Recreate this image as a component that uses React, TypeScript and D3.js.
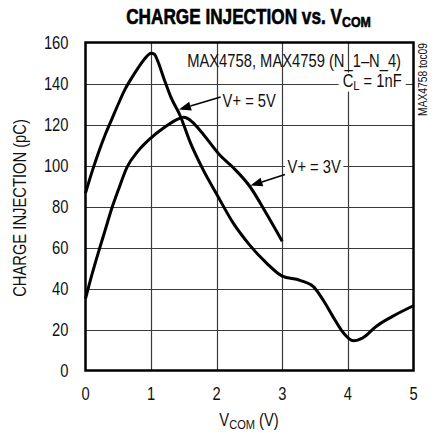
import React, { useEffect, useRef } from "react";
import * as d3 from "d3";

// axis ticks
const xTicks = [0, 1, 2, 3, 4, 5];
const yTicks = [0, 20, 40, 60, 80, 100, 120, 140, 160];

// V+ = 5V curve
const vcom5V = [0, 0.1, 0.2, 0.3, 0.4, 0.5, 0.6, 0.7, 0.8, 0.9, 1.0, 1.05, 1.1, 1.2, 1.3, 1.44, 1.6, 1.8, 2.0, 2.25, 2.5, 2.76, 3.0, 3.27, 3.47, 3.62, 3.77, 3.93, 4.08, 4.23, 4.43, 4.68, 5.0];
const charge5V = [86.5, 97, 106.5, 115, 122.5, 130, 137, 142.5, 147.5, 152, 154.8, 154.3, 151, 142, 133.5, 124.5, 111, 97.5, 86, 72, 61.3, 52.4, 46, 44, 41, 34.5, 26.4, 18.4, 14.5, 16, 21.5, 26.4, 31.6];

// V+ = 3V curve
const vcom3V = [0, 0.1, 0.2, 0.3, 0.4, 0.5, 0.63, 0.8, 1.0, 1.2, 1.4, 1.5, 1.6, 1.75, 2.05, 2.25, 2.5, 2.75, 3.0];
const charge3V = [35, 47, 58, 68.5, 79, 88, 99, 107, 113.5, 118.5, 122.5, 123.5, 122, 117, 105, 99, 90, 77, 63];

// Arial-metric font squeezed horizontally to look like Helvetica Condensed
const FONT = "'Liberation Sans', Arial, sans-serif";
const SQUEEZE = 0.82;

const App = () => {
  const ref = useRef<SVGSVGElement>(null);

  useEffect(() => {
    const width = 435;
    const height = 434;
    const margin = { top: 42.5, right: 21.5, bottom: 63.5, left: 85.5 };

    const svg = d3.select(ref.current);
    svg.selectAll("*").remove();
    svg.style("font-family", FONT);

    const x = d3.scaleLinear().domain([0, 5]).range([margin.left, width - margin.right]);
    const y = d3.scaleLinear().domain([0, 160]).range([height - margin.bottom, margin.top]);
    const plotW = width - margin.left - margin.right;
    const plotH = height - margin.top - margin.bottom;

    const label = (px: number, py: number, size: number, anchor = "start", rotate = 0, squeeze = SQUEEZE) =>
      svg
        .append("text")
        .attr("transform", `translate(${px},${py})${rotate ? ` rotate(${rotate})` : ""} scale(${squeeze},1)`)
        .attr("text-anchor", anchor)
        .attr("font-size", size)
        .attr("fill", "#111");

    // grid, as one path
    const gridPath = d3.path();
    xTicks.slice(1, -1).forEach((t) => {
      gridPath.moveTo(Math.round(x(t)) + 0.5, y(0));
      gridPath.lineTo(Math.round(x(t)) + 0.5, y(160));
    });
    yTicks.slice(1, -1).forEach((t) => {
      gridPath.moveTo(x(0), Math.round(y(t)) + 0.5);
      gridPath.lineTo(x(5), Math.round(y(t)) + 0.5);
    });
    svg
      .append("path")
      .attr("d", gridPath.toString())
      .attr("fill", "none")
      .attr("stroke", "#3a3a3a")
      .attr("stroke-width", 1.2);

    // tick labels
    xTicks.forEach((t) => label(x(t), y(0) + 29, 18, "middle").text(String(t)));
    yTicks.forEach((t) => label(x(0) - 17, y(t) + 6.3, 18, "end").text(String(t)));

    // curves
    const line = d3
      .line<[number, number]>()
      .x((d) => x(d[0]))
      .y((d) => y(d[1]))
      .curve(d3.curveMonotoneX);

    const series = [
      vcom5V.map((v, i) => [v, charge5V[i]] as [number, number]),
      vcom3V.map((v, i) => [v, charge3V[i]] as [number, number]),
    ];
    svg
      .append("g")
      .selectAll("path")
      .data(series)
      .join("path")
      .attr("fill", "none")
      .attr("stroke", "#000")
      .attr("stroke-width", 3)
      .attr("stroke-linejoin", "round")
      .attr("d", (d) => line(d));

    // frame
    svg
      .append("rect")
      .attr("x", margin.left)
      .attr("y", margin.top)
      .attr("width", plotW)
      .attr("height", plotH)
      .attr("fill", "none")
      .attr("stroke", "#000")
      .attr("stroke-width", 2.5);

    // white box behind a label so the grid stops at it (baseline-relative)
    const backdrop = (t: any, pad = 4) => {
      const b = t.node().getBBox();
      svg
        .insert("rect", () => t.node())
        .attr("transform", t.attr("transform"))
        .attr("x", b.x - pad)
        .attr("y", -14)
        .attr("width", b.width + pad * 2)
        .attr("height", 19)
        .attr("fill", "#fff");
    };

    // annotations
    label(x(4.81), y(148), 18, "end").text("MAX4758, MAX4759 (N_1–N_4)");

    const cl = label(x(4.82), y(138.5), 18, "end");
    cl.append("tspan").text("C");
    cl.append("tspan").attr("font-size", 13.5).attr("dy", 3).text("L");
    cl.append("tspan").attr("dy", -3).text(" = 1nF");
    backdrop(cl, 5);

    const arrow = (from: [number, number], to: [number, number]) => {
      const x0 = x(from[0]), y0 = y(from[1]);
      const x1 = x(to[0]), y1 = y(to[1]);
      const ang = Math.atan2(y1 - y0, x1 - x0);
      const len = 12, half = 4.5;
      const bx = x1 - len * Math.cos(ang), by = y1 - len * Math.sin(ang);
      svg.append("line")
        .attr("x1", x0).attr("y1", y0).attr("x2", bx).attr("y2", by)
        .attr("stroke", "#000").attr("stroke-width", 1.5);
      svg.append("path")
        .attr("d", `M${x1},${y1}L${bx - half * Math.sin(ang)},${by + half * Math.cos(ang)}L${bx + half * Math.sin(ang)},${by - half * Math.cos(ang)}Z`)
        .attr("fill", "#000");
    };

    const l5 = label(x(2.09), y(128.6), 18).text("V+ = 5V");
    backdrop(l5, 2);
    arrow([2.06, 133.4], [1.425, 127.3]);

    const l3 = label(x(3.08), y(96.5), 18).text("V+ = 3V");
    backdrop(l3, 3);
    arrow([3.04, 95.6], [2.515, 90.2]);

    // title
    const title = label(248.5, 23.5, 21.5, "middle", 0, 0.8)
      .attr("font-weight", "bold")
      .attr("fill", "#000")
      .attr("stroke", "#000")
      .attr("stroke-width", 0.6);
    title.append("tspan").text("CHARGE INJECTION vs. V");
    title.append("tspan").attr("font-size", 15.5).attr("dy", 3).text("COM");

    // axis titles
    const xl = label(249, 426, 18, "middle");
    xl.append("tspan").text("V");
    xl.append("tspan").attr("font-size", 13.5).attr("dy", 3).text("COM");
    xl.append("tspan").attr("dy", -3).text(" (V)");

    label(25.5, 208, 18, "middle", -90).text("CHARGE INJECTION (pC)");

    label(427, 43, 12.5, "end", -90).text("MAX4758 toc09");
  }, []);

  return (
    <svg
      ref={ref}
      width={435}
      height={434}
      style={{ position: "absolute", left: 0, top: 0, background: "#fff" }}
    />
  );
};

export default App;
